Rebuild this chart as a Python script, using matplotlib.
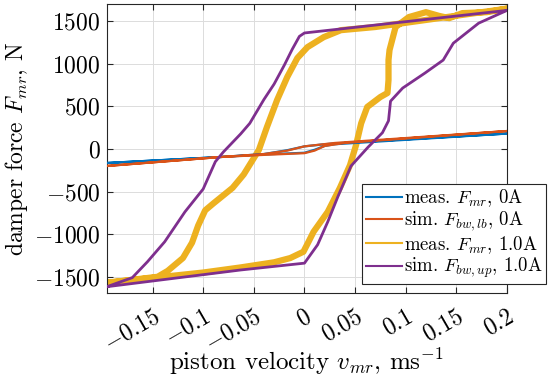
import matplotlib
matplotlib.use('Agg')
import matplotlib.pyplot as plt

plt.rcParams['font.family'] = 'serif'
plt.rcParams['font.serif'] = ['cmr10', 'DejaVu Serif']
plt.rcParams['mathtext.fontset'] = 'cm'
plt.rcParams['axes.unicode_minus'] = False

# measured force, 0 A (one loop: upper branch then lower branch)
meas0_v = [0.2, 0.03, 0.02, 0.0, -0.017, -0.04, -0.083, -0.195,
           -0.083, -0.04, -0.02, 0.0, 0.01, 0.02, 0.03, 0.2]
meas0_f = [180, 65, 55, 30, -15, -60, -95, -165,
           -95, -65, -55, -45, -10, 35, 55, 180]

# simulated Bouc-Wen force, 0 A (lower bound model)
sim0_v = [0.2, 0.03, 0.0, -0.017, -0.04, -0.083, -0.195,
          -0.083, -0.04, -0.02, 0.0, 0.01, 0.02, 0.04, 0.2]
sim0_f = [210, 70, 30, -20, -60, -95, -200,
          -95, -70, -60, -50, -20, 35, 70, 210]

# measured force, 1.0 A
meas1_v = [0.2, 0.07, 0.036, 0.019, 0.003, -0.007, -0.017, -0.027, -0.037,
           -0.045, -0.06, -0.071, -0.09, -0.098, -0.105, -0.111, -0.12,
           -0.135, -0.145, -0.195,
           -0.1, -0.063, -0.03, -0.014, -0.001, 0.004, 0.009, 0.023, 0.035,
           0.045, 0.051, 0.056, 0.062, 0.075, 0.082, 0.083, 0.083, 0.084,
           0.09, 0.103, 0.12, 0.133, 0.143, 0.156, 0.18, 0.2]
meas1_f = [1645, 1430, 1393, 1311, 1194, 1066, 843, 574, 258,
           -12, -300, -457, -640, -720, -900, -1100, -1280,
           -1430, -1500, -1570,
           -1450, -1390, -1330, -1280, -1206, -1090, -972, -738, -457,
           -190, 47, 300, 492, 609, 656, 808, 1042, 1159,
           1430, 1546, 1604, 1560, 1534, 1593, 1604, 1645]

# simulated Bouc-Wen force, 1.0 A (upper bound model)
sim1_v = [0.2, 0.0, -0.005, -0.012, -0.02, -0.03, -0.04, -0.054, -0.063,
          -0.08, -0.088, -0.1, -0.118, -0.138, -0.155, -0.17, -0.184, -0.195,
          -0.063, 0.0, 0.013, 0.023, 0.033, 0.046, 0.063, 0.077, 0.083,
          0.085, 0.097, 0.119, 0.137, 0.147, 0.172, 0.2]
sim1_f = [1625, 1360, 1320, 1170, 980, 760, 580, 300, 176,
          -35, -150, -470, -738, -1089, -1323, -1510, -1569, -1616,
          -1420, -1340, -1124, -855, -560, -200, 23, 190, 330,
          560, 714, 890, 1042, 1240, 1475, 1625]

x_ticks = [-0.15, -0.1, -0.05, 0, 0.05, 0.1, 0.15, 0.2]
x_tick_labels = ['$-0.15$', '$-0.1$', '$-0.05$', '$0$', '$0.05$', '$0.1$', '$0.15$', '$0.2$']
y_ticks = [-1500, -1000, -500, 0, 500, 1000, 1500]
y_tick_labels = ['$-1500$', '$-1000$', '$-500$', '$0$', '$500$', '$1000$', '$1500$']

fig = plt.figure(figsize=(5.5, 3.87), dpi=100)
ax = fig.add_axes([0.1945, 0.2429, 0.7273, 0.7468])

ax.plot(meas0_v, meas0_f, color='#0072BD', lw=1.6, label=r'meas. $F_{mr}$, 0A', zorder=3)
ax.plot(sim0_v, sim0_f, color='#D95319', lw=1.6, label=r'sim. $F_{bw,lb}$, 0A', zorder=3)
ax.plot(meas1_v, meas1_f, color='#EDB120', lw=4.5, label=r'meas. $F_{mr}$, 1.0A', zorder=2)
ax.plot(sim1_v, sim1_f, color='#7E2F8E', lw=2.0, label=r'sim. $F_{bw,up}$, 1.0A', zorder=4)

ax.set_xlim(-0.195, 0.2)
ax.set_ylim(-1690, 1700)
ax.set_xticks(x_ticks)
ax.set_xticklabels(x_tick_labels, rotation=30, ha='right', va='top', rotation_mode='anchor')
ax.set_yticks(y_ticks)
ax.set_yticklabels(y_tick_labels)
ax.tick_params(labelsize=17, direction='in', top=True, right=True, length=4, color='#262626')
ax.tick_params(axis='x', pad=9)
ax.tick_params(axis='y', pad=4.5)
ax.grid(True, color='#dcdcdc', lw=0.7)
ax.set_axisbelow(True)
for s in ax.spines.values():
    s.set_color('#262626')
    s.set_linewidth(0.8)

ax.set_xlabel(r'piston velocity $v_{mr}$, ms$^{-1}$', fontsize=18)
ax.set_ylabel(r'damper force $F_{mr}$, N', fontsize=17)
ax.xaxis.set_label_coords(0.4975, -0.185)
ax.yaxis.set_label_coords(-0.193, 0.5)

leg = ax.legend(loc='lower right', bbox_to_anchor=(0.993, 0.266), bbox_transform=fig.transFigure,
                fontsize=13.5, frameon=True, fancybox=False, framealpha=1, edgecolor='#262626',
                borderaxespad=0, handlelength=1.9, handletextpad=0.1, labelspacing=0.02,
                borderpad=0.2)
leg.get_frame().set_linewidth(0.8)
for h in leg.legend_handles:
    h.set_linewidth(1.5)

fig.savefig('out.png', dpi=100)
